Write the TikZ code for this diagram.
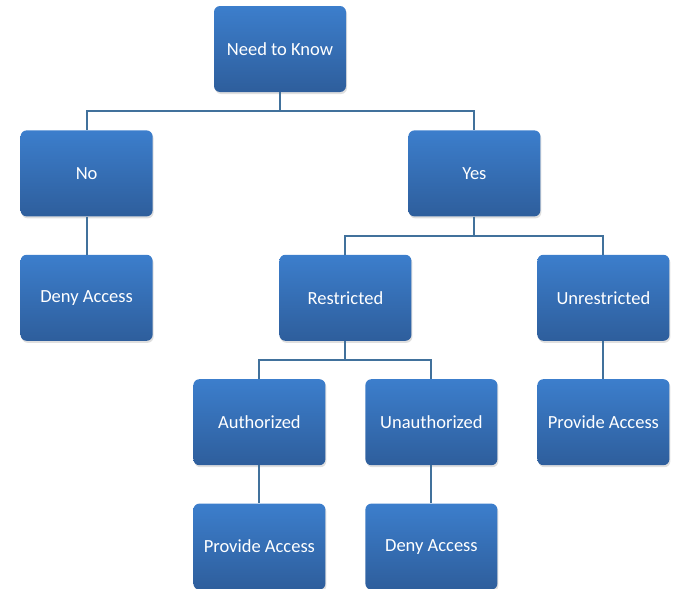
\documentclass[tikz,border=0pt]{standalone}
\usepackage{fontspec}
\setmainfont{Carlito}
\usetikzlibrary{positioning, shadows}
\definecolor{boxtop}{RGB}{60,126,204}
\definecolor{boxbot}{RGB}{46,94,156}
\definecolor{linkblue}{RGB}{65,113,156}

\begin{document}
\begin{tikzpicture}[node distance=38pt,
  box/.style={rounded corners=6pt, minimum width=132pt, minimum height=86pt,
    top color=boxtop, bottom color=boxbot, text=white, font=\fontsize{18.5}{22}\selectfont,
    drop shadow={shadow xshift=1pt, shadow yshift=-2pt, opacity=0.25}},
  link/.style={draw=linkblue, line width=2pt}]
  \useasboundingbox (0,0) rectangle (673pt,-589pt);
  \node[box] (need) at (280pt,-49pt) {Need to Know};
  \node[box, below left = 38pt and 61pt of need]  (no)  {No};
  \node[box, below right = 38pt and 62pt of need]  (yes)  {Yes};
  \node[box, below = of no]  (deny1)  {Deny Access};
  \node[box, below = of yes, xshift=-129pt]  (restr)  {Restricted};
  \node[box, below = of yes, xshift=129pt]  (unrestr)  {Unrestricted};
  \node[box, below = of restr, xshift=-86pt]  (auth)  {Authorized};
  \node[box, below = of restr, xshift=86pt]  (unauth)  {Unauthorized};
  \node[box, below = of unrestr]  (prov1)  {Provide Access};
  \node[box, below = of auth]  (prov2)  {Provide Access};
  \node[box, below = of unauth]  (deny2)  {Deny Access};

  \draw[link] (need.south) -- ++(0,-19pt) -| (no.north);
  \draw[link] (need.south) -- ++(0,-19pt) -| (yes.north);
  \draw[link] (no) -- (deny1);
  \draw[link] (yes.south) -- ++(0,-19pt) -| (restr.north);
  \draw[link] (yes.south) -- ++(0,-19pt) -| (unrestr.north);
  \draw[link] (restr.south) -- ++(0,-19pt) -| (auth.north);
  \draw[link] (restr.south) -- ++(0,-19pt) -| (unauth.north);
  \draw[link] (unrestr) -- (prov1);
  \draw[link] (auth) -- (prov2);
  \draw[link] (unauth) -- (deny2);
\end{tikzpicture}
\end{document}
